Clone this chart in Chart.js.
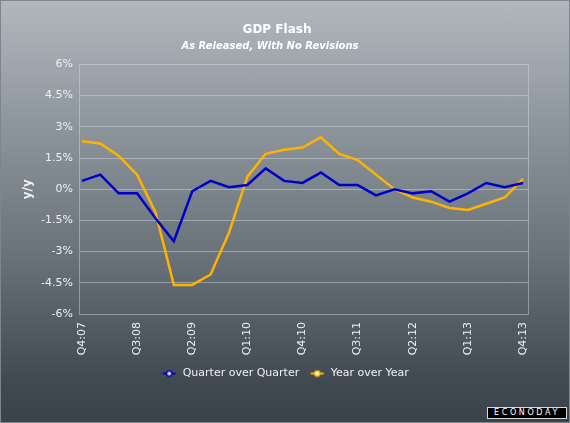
<!DOCTYPE html>
<html>
<head>
<meta charset="utf-8">
<script src="https://cdn.jsdelivr.net/npm/chart.js@4/dist/chart.umd.min.js"></script>
<style>
  html, body { margin: 0; padding: 0; }
  body { width: 570px; height: 423px; overflow: hidden; }
  .frame {
    position: relative; width: 568px; height: 421px;
    border: 1px solid #7e868d;
    background: linear-gradient(to bottom, #b1b7bd 0%, #8d959c 30%, #6a737a 60%, #414a52 90%, #3a434b 100%);
  }
  canvas { position: absolute; left: -1px; top: -1px; }
  .logo {
    position: absolute; left: 486px; top: 406px; width: 80px; height: 12px;
    background: #000; border: 1px solid #d8d8d8; box-sizing: border-box;
    color: #fff; font: 8px "DejaVu Sans", sans-serif; letter-spacing: 2.6px;
    line-height: 10px; text-align: center;
  }
</style>
</head>
<body>
<div class="frame">
  <canvas id="gdpChart" width="570" height="423"></canvas>
  <div class="logo">ECONODAY</div>
</div>
<script>
'use strict';

// Quarters Q4:07 .. Q4:13
const quarters = ['Q4:07', 'Q1:08', 'Q2:08', 'Q3:08', 'Q4:08', 'Q1:09', 'Q2:09', 'Q3:09', 'Q4:09',
  'Q1:10', 'Q2:10', 'Q3:10', 'Q4:10', 'Q1:11', 'Q2:11', 'Q3:11', 'Q4:11',
  'Q1:12', 'Q2:12', 'Q3:12', 'Q4:12', 'Q1:13', 'Q2:13', 'Q3:13', 'Q4:13'];

const quarterOverQuarter = [0.4, 0.7, -0.2, -0.2, -1.4, -2.5, -0.1, 0.4, 0.1,
  0.2, 1.0, 0.4, 0.3, 0.8, 0.2, 0.2, -0.3,
  0.0, -0.2, -0.1, -0.6, -0.2, 0.3, 0.1, 0.3];

const yearOverYear = [2.3, 2.2, 1.6, 0.7, -1.1, -4.6, -4.6, -4.1, -2.1,
  0.6, 1.7, 1.9, 2.0, 2.5, 1.7, 1.4, 0.7,
  0.0, -0.4, -0.6, -0.9, -1.0, -0.7, -0.4, 0.5];

const yTicks = [-6, -4.5, -3, -1.5, 0, 1.5, 3, 4.5, 6];

const titleText = 'GDP Flash';
const subtitleText = 'As Released, With No Revisions';

const colors = {
  qoq: '#0000c8',
  yoy: '#ffb300',
  grid: 'rgba(215, 222, 228, 0.45)',
  text: '#eef0f2'
};

const FONT = '"DejaVu Sans", Verdana, sans-serif';

// small legend marker: line with a white dot
function makeMarker(color) {
  const c = document.createElement('canvas');
  c.width = 16; c.height = 8;
  const g = c.getContext('2d');
  g.strokeStyle = color;
  g.lineWidth = 2;
  g.beginPath(); g.moveTo(1.5, 4); g.lineTo(14.5, 4); g.stroke();
  g.fillStyle = '#ffffff';
  g.strokeStyle = color;
  g.lineWidth = 1.5;
  g.beginPath(); g.arc(8, 4, 2.6, 0, Math.PI * 2); g.fill(); g.stroke();
  return c;
}
const markers = [makeMarker(colors.qoq), makeMarker(colors.yoy)];

const toPoints = arr => arr.map((v, i) => ({ x: i, y: v }));

// the headings in the original sit a bit left of centre
const headingShift = {
  id: 'headingShift',
  afterLayout(chart) {
    chart.boxes.forEach(box => {
      const t = box.options && box.options.text;
      const d = t === titleText ? -8 : t === subtitleText ? -15 : 0;
      if (d) { box.left += d; box.right += d; }
    });
  }
};

new Chart(document.getElementById('gdpChart'), {
  type: 'line',
  data: {
    datasets: [{
      label: 'Quarter over Quarter',
      data: toPoints(quarterOverQuarter),
      borderColor: colors.qoq,
      backgroundColor: colors.qoq,
      borderWidth: 2.5,
      pointRadius: 0,
      tension: 0
    }, {
      label: 'Year over Year',
      data: toPoints(yearOverYear),
      borderColor: colors.yoy,
      backgroundColor: colors.yoy,
      borderWidth: 2.5,
      pointRadius: 0,
      tension: 0
    }]
  },
  plugins: [headingShift],
  options: {
    responsive: false,
    animation: false,
    layout: { padding: { top: 0, left: 0, right: 0, bottom: 34 } },
    plugins: {
      title: {
        display: true,
        text: titleText,
        color: '#ffffff',
        font: { family: FONT, size: 12, weight: 'bold' },
        padding: { top: 23, bottom: 2 }
      },
      subtitle: {
        display: true,
        text: subtitleText,
        color: '#ffffff',
        font: { family: FONT, size: 10, weight: 'bold', style: 'italic' },
        padding: { top: 1, bottom: 12 }
      },
      legend: {
        position: 'bottom',
        labels: {
          color: colors.text,
          font: { family: FONT, size: 11 },
          usePointStyle: true,
          pointStyleWidth: 16,
          padding: 10,
          generateLabels(chart) {
            const items = Chart.defaults.plugins.legend.labels.generateLabels(chart);
            items.forEach((it, i) => { it.pointStyle = markers[i]; });
            return items;
          }
        }
      },
      tooltip: { enabled: false }
    },
    scales: {
      x: {
        type: 'linear',
        min: -0.16,
        max: 24.27,
        afterFit(scale) { scale.height = 44; },
        afterBuildTicks(scale) {
          scale.ticks = [];
          for (let i = 0; i < quarters.length; i += 3) scale.ticks.push({ value: i });
        },
        ticks: {
          color: colors.text,
          font: { family: FONT, size: 11 },
          minRotation: 90,
          maxRotation: 90,
          autoSkip: false,
          padding: 8,
          callback: v => quarters[v]
        },
        grid: { display: false, drawTicks: false },
        border: { display: false }
      },
      y: {
        min: -6,
        max: 6,
        afterFit(scale) { scale.width = 79; },
        afterBuildTicks(scale) { scale.ticks = yTicks.map(v => ({ value: v })); },
        ticks: {
          color: colors.text,
          font: { family: FONT, size: 11 },
          padding: 6,
          callback: v => v + '%'
        },
        grid: { color: colors.grid, drawTicks: false, lineWidth: 1 },
        border: { display: true, color: colors.grid },
        title: {
          display: true,
          text: 'y/y',
          color: colors.text,
          font: { family: FONT, size: 12, weight: 'bold' },
          padding: { top: 21 }
        }
      },
      yRight: {
        position: 'right',
        min: -6,
        max: 6,
        afterFit(scale) { scale.width = 42; },
        ticks: { display: false },
        grid: { display: false, drawTicks: false },
        border: { display: true, color: colors.grid }
      }
    }
  }
});
</script>
</body>
</html>
